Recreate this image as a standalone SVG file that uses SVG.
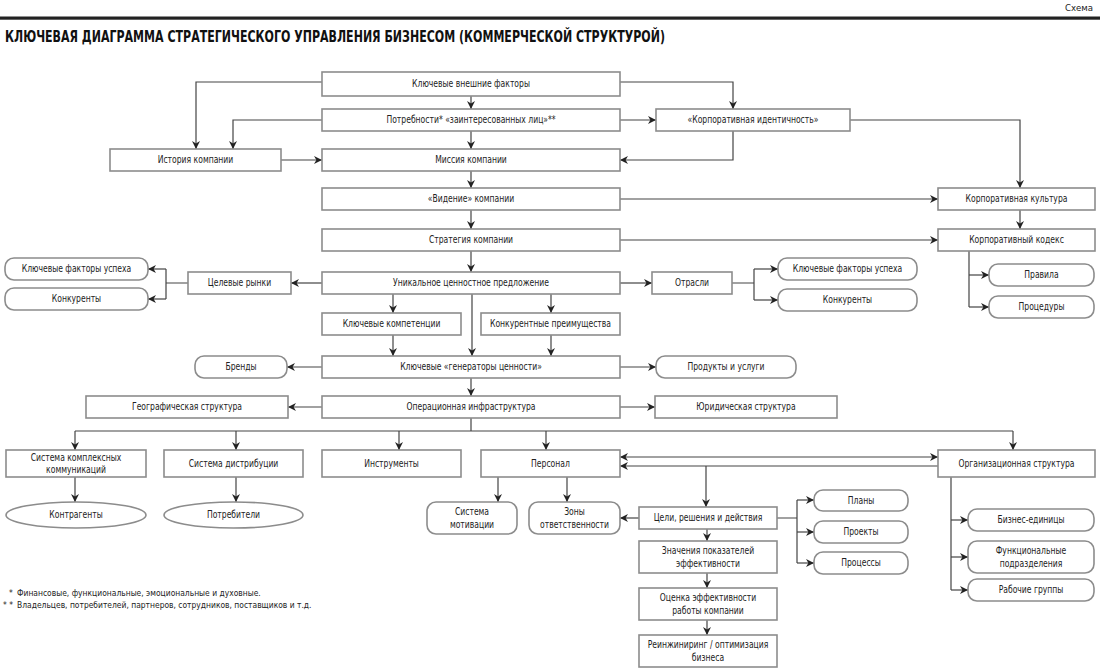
<svg xmlns="http://www.w3.org/2000/svg" width="1100" height="669" viewBox="0 0 1100 669">
<defs>
<style>
.b{fill:#fff;stroke:#8c8c8c;stroke-width:1.6}
.t{font-family:"Liberation Sans Narrow","DejaVu Sans Condensed","Liberation Sans",sans-serif;font-size:10.5px;fill:#222;text-anchor:middle;transform-box:fill-box;transform-origin:center;transform:scaleX(0.81)}
.n{font-family:"Liberation Sans Narrow","DejaVu Sans Condensed","Liberation Sans",sans-serif;font-size:9.5px;fill:#222;transform-box:fill-box;transform-origin:0 50%;transform:scaleX(0.886)}
.c{fill:none;stroke:#444;stroke-width:1.2}
.a{marker-end:url(#ah)}
.d{marker-start:url(#ah);marker-end:url(#ah)}
</style>
<marker id="ah" viewBox="0 0 10 10" refX="10" refY="5" markerWidth="9" markerHeight="8" markerUnits="userSpaceOnUse" orient="auto-start-reverse">
<path d="M0,0 L10,5 L0,10 L3,5 z" fill="#222"/>
</marker>
</defs>
<rect width="1100" height="669" fill="#fff"/>
<text x="1093" y="11" style="font-family:'Liberation Sans Narrow','DejaVu Sans Condensed',sans-serif;font-size:9.5px;fill:#222;text-anchor:end">Схема</text>
<rect x="0" y="16.5" width="1100" height="3.2" fill="#222"/>
<text x="5" y="42" textLength="660" lengthAdjust="spacingAndGlyphs" style="font-family:'Liberation Sans Narrow','DejaVu Sans Condensed',sans-serif;font-size:15px;font-weight:bold;fill:#111">КЛЮЧЕВАЯ ДИАГРАММА СТРАТЕГИЧЕСКОГО УПРАВЛЕНИЯ БИЗНЕСОМ (КОММЕРЧЕСКОЙ СТРУКТУРОЙ)</text>

<g id="connectors">
<path class="c a" d="M471,96 V109"/>
<path class="c a" d="M471,131 V149"/>
<path class="c a" d="M471,171 V188"/>
<path class="c a" d="M471,210 V229"/>
<path class="c a" d="M471,251 V272"/>
<path class="c a" d="M322,82 H196 V149"/>
<path class="c a" d="M322,120 H233 V149"/>
<path class="c a" d="M281,160 H322"/>
<path class="c a" d="M620,82 H733 V109"/>
<path class="c a" d="M620,120 H656"/>
<path class="c a" d="M733,131 V160 H620"/>
<path class="c a" d="M850,120 H1020 V188"/>
<path class="c a" d="M620,199 H938"/>
<path class="c a" d="M1020,210 V229"/>
<path class="c a" d="M620,240 H938"/>
<path class="c" d="M969,251 V307"/>
<path class="c a" d="M969,275 H989"/>
<path class="c a" d="M969,307 H989"/>
<path class="c a" d="M322,283 H291"/>
<path class="c" d="M188,283 H166 M166,269 V299"/>
<path class="c a" d="M166,269 H148"/>
<path class="c a" d="M166,299 H148"/>
<path class="c a" d="M620,283 H652"/>
<path class="c" d="M732,283 H754 M754,269 V300"/>
<path class="c a" d="M754,269 H778"/>
<path class="c a" d="M754,300 H778"/>
<path class="c a" d="M393,294 V313"/>
<path class="c a" d="M472,294 V356"/>
<path class="c a" d="M551,294 V313"/>
<path class="c a" d="M393,335 V356"/>
<path class="c a" d="M551,335 V356"/>
<path class="c a" d="M322,367 H287"/>
<path class="c a" d="M620,367 H656"/>
<path class="c a" d="M471,378 V396"/>
<path class="c a" d="M322,407 H288"/>
<path class="c a" d="M620,407 H655"/>
<path class="c" d="M471,418 V431 M75,431 H1013"/>
<path class="c a" d="M75,431 V450"/>
<path class="c a" d="M236,431 V450"/>
<path class="c a" d="M399,431 V450"/>
<path class="c a" d="M546,431 V450"/>
<path class="c a" d="M1013,431 V450"/>
<path class="c a" d="M75,477 V502"/>
<path class="c a" d="M236,477 V502"/>
<path class="c d" d="M620,457 H938"/>
<path class="c a" d="M938,466 H620"/>
<path class="c a" d="M706,466 V507"/>
<path class="c a" d="M498,477 V502"/>
<path class="c a" d="M567,477 V502"/>
<path class="c a" d="M639,518 H620"/>
<path class="c" d="M777,518 H797 M797,500 V563"/>
<path class="c a" d="M797,500 H814"/>
<path class="c a" d="M797,532 H814"/>
<path class="c a" d="M797,563 H814"/>
<path class="c a" d="M707,529 V541"/>
<path class="c a" d="M707,573 V588"/>
<path class="c a" d="M707,620 V635"/>
<path class="c" d="M951,477 V590"/>
<path class="c a" d="M951,520 H968"/>
<path class="c a" d="M951,557 H968"/>
<path class="c a" d="M951,590 H968"/>
</g>

<g id="n1"><rect class="b" x="322" y="72" width="298" height="24"/><text class="t" x="471" y="87.5">Ключевые внешние факторы</text></g>
<g id="n2"><rect class="b" x="322" y="109" width="298" height="22"/><text class="t" x="471" y="123.5">Потребности*  «заинтересованных лиц»**</text></g>
<g id="n3"><rect class="b" x="656" y="109" width="194" height="22"/><text class="t" x="753" y="123.5">«Корпоративная идентичность»</text></g>
<g id="n4"><rect class="b" x="110" y="149" width="171" height="22"/><text class="t" x="195.5" y="163.5">История компании</text></g>
<g id="n5"><rect class="b" x="322" y="149" width="298" height="22"/><text class="t" x="471" y="163.5">Миссия компании</text></g>
<g id="n6"><rect class="b" x="322" y="188" width="298" height="22"/><text class="t" x="471" y="202.5">«Видение» компании</text></g>
<g id="n7"><rect class="b" x="938" y="188" width="157" height="22"/><text class="t" x="1016.5" y="202.5">Корпоративная культура</text></g>
<g id="n8"><rect class="b" x="322" y="229" width="298" height="22"/><text class="t" x="471" y="243.5">Стратегия компании</text></g>
<g id="n9"><rect class="b" x="938" y="229" width="157" height="22"/><text class="t" x="1016.5" y="243.5">Корпоративный кодекс</text></g>
<g id="n10"><rect class="b" x="5" y="258" width="143" height="22" rx="9"/><text class="t" x="76.5" y="272.5">Ключевые факторы успеха</text></g>
<g id="n11"><rect class="b" x="5" y="288" width="143" height="22" rx="9"/><text class="t" x="76.5" y="302.5">Конкуренты</text></g>
<g id="n12"><rect class="b" x="188" y="272" width="103" height="22"/><text class="t" x="239.5" y="286.5">Целевые рынки</text></g>
<g id="n13"><rect class="b" x="322" y="272" width="298" height="22"/><text class="t" x="471" y="286.5">Уникальное ценностное предложение</text></g>
<g id="n14"><rect class="b" x="652" y="272" width="80" height="22"/><text class="t" x="692" y="286.5">Отрасли</text></g>
<g id="n15"><rect class="b" x="778" y="258" width="139" height="22" rx="9"/><text class="t" x="847.5" y="272.5">Ключевые факторы успеха</text></g>
<g id="n16"><rect class="b" x="778" y="289" width="139" height="22" rx="9"/><text class="t" x="847.5" y="303.5">Конкуренты</text></g>
<g id="n17"><rect class="b" x="989" y="264" width="105" height="22" rx="9"/><text class="t" x="1041.5" y="278.5">Правила</text></g>
<g id="n18"><rect class="b" x="989" y="296" width="105" height="22" rx="9"/><text class="t" x="1041.5" y="310.5">Процедуры</text></g>
<g id="n19"><rect class="b" x="322" y="313" width="139" height="22"/><text class="t" x="391.5" y="327.5">Ключевые компетенции</text></g>
<g id="n20"><rect class="b" x="481" y="313" width="139" height="22"/><text class="t" x="550.5" y="327.5">Конкурентные преимущества</text></g>
<g id="n21"><rect class="b" x="195" y="356" width="92" height="22" rx="9"/><text class="t" x="241" y="370.5">Бренды</text></g>
<g id="n22"><rect class="b" x="322" y="356" width="298" height="22"/><text class="t" x="471" y="370.5">Ключевые «генераторы ценности»</text></g>
<g id="n23"><rect class="b" x="656" y="356" width="140" height="22" rx="9"/><text class="t" x="726" y="370.5">Продукты и услуги</text></g>
<g id="n24"><rect class="b" x="86" y="396" width="202" height="22"/><text class="t" x="187" y="410.5">Географическая структура</text></g>
<g id="n25"><rect class="b" x="322" y="396" width="298" height="22"/><text class="t" x="471" y="410.5">Операционная инфраструктура</text></g>
<g id="n26"><rect class="b" x="655" y="396" width="182" height="22"/><text class="t" x="746" y="410.5">Юридическая структура</text></g>
<g id="n27"><rect class="b" x="6" y="450" width="140" height="27"/><text class="t" x="76" y="461">Система комплексных</text><text class="t" x="76" y="473">коммуникаций</text></g>
<g id="n28"><rect class="b" x="164" y="450" width="139" height="27"/><text class="t" x="233.5" y="467">Система дистрибуции</text></g>
<g id="n29"><rect class="b" x="322" y="450" width="139" height="27"/><text class="t" x="391.5" y="467">Инструменты</text></g>
<g id="n30"><rect class="b" x="481" y="450" width="139" height="27"/><text class="t" x="550.5" y="467">Персонал</text></g>
<g id="n31"><rect class="b" x="938" y="450" width="157" height="27"/><text class="t" x="1016.5" y="467">Организационная структура</text></g>
<g id="n32"><ellipse class="b" cx="76" cy="515" rx="70" ry="13"/><text class="t" x="76" y="518.5">Контрагенты</text></g>
<g id="n33"><ellipse class="b" cx="233.5" cy="515" rx="69.5" ry="13"/><text class="t" x="233.5" y="518.5">Потребители</text></g>
<g id="n34"><rect class="b" x="427" y="502" width="90" height="32" rx="9"/><text class="t" x="472" y="515">Система</text><text class="t" x="472" y="528">мотивации</text></g>
<g id="n35"><rect class="b" x="529" y="502" width="91" height="32" rx="9"/><text class="t" x="574.5" y="515">Зоны</text><text class="t" x="574.5" y="528">ответственности</text></g>
<g id="n36"><rect class="b" x="639" y="507" width="138" height="22"/><text class="t" x="708" y="521.5">Цели, решения и действия</text></g>
<g id="n37"><rect class="b" x="814" y="490" width="94" height="21" rx="9"/><text class="t" x="861" y="504">Планы</text></g>
<g id="n38"><rect class="b" x="814" y="521" width="94" height="22" rx="9"/><text class="t" x="861" y="535.5">Проекты</text></g>
<g id="n39"><rect class="b" x="814" y="552" width="94" height="22" rx="9"/><text class="t" x="861" y="566.5">Процессы</text></g>
<g id="n40"><rect class="b" x="639" y="541" width="138" height="32"/><text class="t" x="708" y="554">Значения показателей</text><text class="t" x="708" y="567">эффективности</text></g>
<g id="n41"><rect class="b" x="639" y="588" width="138" height="32"/><text class="t" x="708" y="601">Оценка эффективности</text><text class="t" x="708" y="614">работы компании</text></g>
<g id="n42"><rect class="b" x="639" y="635" width="138" height="32"/><text class="t" x="708" y="648">Реинжиниринг / оптимизация</text><text class="t" x="708" y="661">бизнеса</text></g>
<g id="n43"><rect class="b" x="968" y="509" width="126" height="22" rx="9"/><text class="t" x="1031" y="523.5">Бизнес-единицы</text></g>
<g id="n44"><rect class="b" x="968" y="541" width="126" height="32" rx="9"/><text class="t" x="1031" y="554">Функциональные</text><text class="t" x="1031" y="567">подразделения</text></g>
<g id="n45"><rect class="b" x="968" y="579" width="126" height="22" rx="9"/><text class="t" x="1031" y="593.5">Рабочие группы</text></g>

<g id="notes">
<text class="n" x="9" y="596">*</text><text class="n" x="17" y="596">Финансовые, функциональные, эмоциональные и духовные.</text>
<text class="n" x="3" y="608">* *</text><text class="n" x="17" y="608">Владельцев, потребителей, партнеров, сотрудников, поставщиков и т.д.</text>
</g>
</svg>
